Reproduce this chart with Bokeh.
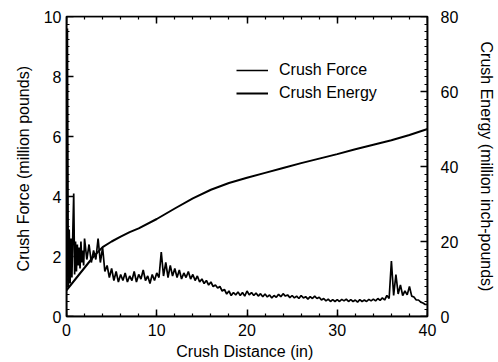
import numpy as np
from bokeh.plotting import figure
from bokeh.models import (LinearAxis, Range1d, SingleIntervalTicker, Legend, LegendItem,
                          ColumnDataSource, CustomJSTickFormatter)
from bokeh.embed import file_html
from bokeh.resources import INLINE

# ---- data ----
# crush force, million pounds: dense sampling 0..2 in (0.1 step), then 0.25 step
force_dist = np.round(np.concatenate([np.arange(0.0, 2.0001, 0.1),
                                      np.arange(2.25, 40.0001, 0.25)]), 2)
force_vals = [
    0.9, 9.6, 1.0, 2.9, 1.1, 2.6, 1.3, 2.8, 4.1, 1.4, 2.5, 1.5, 2.4, 1.7, 2.3, 1.6, 2.5, 1.8, 2.2, 1.7, 2.6,
    1.9, 2.4, 1.8, 2.2, 1.9, 2.6, 1.8, 2.3, 1.5, 1.7, 1.3, 1.6, 1.2, 1.5, 1.15, 1.4,
    1.2, 1.45, 1.15, 1.35, 1.2, 1.5, 1.15, 1.4, 1.25, 1.55, 1.2, 1.35, 1.1, 1.4, 1.2, 1.45,
    1.3, 2.15, 1.35, 1.8, 1.3, 1.7, 1.35, 1.6, 1.3, 1.55, 1.25, 1.45, 1.3, 1.5, 1.25, 1.4,
    1.2, 1.35, 1.15, 1.25, 1.1, 1.2, 1.05, 1.15, 1.0, 1.05, 0.95, 1.0, 0.85, 0.9, 0.75, 0.85,
    0.7, 0.8, 0.72, 0.82, 0.7, 0.8, 0.68, 0.85, 0.72, 0.8, 0.7, 0.78, 0.68, 0.76, 0.66, 0.75,
    0.65, 0.72, 0.62, 0.7, 0.64, 0.74, 0.66, 0.76, 0.68, 0.72, 0.63, 0.7, 0.62, 0.68, 0.6, 0.7,
    0.62, 0.66, 0.58, 0.66, 0.6, 0.68, 0.6, 0.64, 0.55, 0.6, 0.52, 0.58, 0.5, 0.56, 0.5, 0.56,
    0.5, 0.57, 0.52, 0.58, 0.5, 0.56, 0.5, 0.55, 0.48, 0.56, 0.5, 0.55, 0.5, 0.57, 0.52, 0.58,
    0.52, 0.6, 0.54, 0.62, 0.55, 0.7, 0.6, 1.85, 0.7, 1.4, 0.75, 1.05, 0.7, 0.85, 0.72, 1.0,
    0.68, 0.65, 0.55, 0.55, 0.48, 0.45, 0.4, 0.4,
]
assert len(force_dist) == len(force_vals)

# crush energy, million inch-pounds
energy_dist = [0, 1, 2, 3, 4, 5, 6, 7, 8, 10, 12, 14, 16, 18, 20, 22, 24, 26, 28, 30, 32, 34, 36, 38, 40]
energy_vals = [7, 10, 13, 16, 18.5, 20, 21.3, 22.5, 23.5, 26, 28.8, 31.5, 33.8, 35.6, 37, 38.3,
               39.6, 40.9, 42.1, 43.3, 44.6, 45.8, 47, 48.4, 50]

FONT = "Liberation Sans"
FS = "16px"

p = figure(width=498, height=362, output_backend="svg", toolbar_location=None,
           x_range=Range1d(0, 40), y_range=Range1d(0, 10),
           x_axis_location=None, y_axis_location=None,
           min_border_left=66, min_border_right=71, min_border_top=16, min_border_bottom=46)
p.extra_y_ranges = {"energy": Range1d(0, 80)}
p.xgrid.visible = False
p.ygrid.visible = False
p.outline_line_color = "black"
p.outline_line_width = 1.5
p.background_fill_color = "white"
p.border_fill_color = "white"

src_f = ColumnDataSource(dict(x=force_dist, y=force_vals))
src_e = ColumnDataSource(dict(x=energy_dist, y=energy_vals))
r_force = p.line("x", "y", source=src_f, line_color="black", line_width=1.7)
r_energy = p.line("x", "y", source=src_e, line_color="black", line_width=2, y_range_name="energy")

x_ticks = dict(interval=10, num_minor_ticks=5)
yl_ticks = dict(interval=2, num_minor_ticks=8)
yr_ticks = dict(interval=20, num_minor_ticks=10)


def label_axis(ax):
    # axis that carries the numbers and the title (ticks drawn by the tick axes)
    ax.axis_line_color = "black"
    ax.axis_line_width = 1.5
    ax.major_tick_in = 0
    ax.major_tick_out = 0
    ax.minor_tick_in = 0
    ax.minor_tick_out = 0
    ax.major_label_text_font = FONT
    ax.major_label_text_font_size = FS
    ax.major_label_text_color = "black"
    ax.axis_label_text_font = FONT
    ax.axis_label_text_font_size = FS
    ax.axis_label_text_font_style = "normal"
    ax.axis_label_text_color = "black"


def tick_axis(ax):
    # axis pinned on the frame edge that draws inward ticks only
    ax.formatter = CustomJSTickFormatter(code="return ''")
    ax.axis_line_color = "black"
    ax.axis_line_width = 1.5
    ax.major_tick_in = 7
    ax.major_tick_out = 0
    ax.minor_tick_in = 3
    ax.minor_tick_out = 0
    ax.major_tick_line_color = "black"
    ax.minor_tick_line_color = "black"
    ax.major_tick_line_width = 1.5
    ax.minor_tick_line_width = 1.2
    ax.major_label_standoff = 0


# labelled axes (closest to frame)
xa = LinearAxis(ticker=SingleIntervalTicker(**x_ticks), axis_label="Crush Distance  (in)")
label_axis(xa)
xa.major_label_standoff = 7
xa.axis_label_standoff = 4
p.add_layout(xa, "below")

ya = LinearAxis(ticker=SingleIntervalTicker(**yl_ticks), axis_label="Crush Force  (million pounds)")
label_axis(ya)
ya.major_label_standoff = 5
ya.axis_label_standoff = 9
p.add_layout(ya, "left")

ra = LinearAxis(y_range_name="energy", axis_label="Crush Energy (million inch-pounds)",
                ticker=SingleIntervalTicker(**yr_ticks))
label_axis(ra)
ra.major_label_standoff = 13
ra.axis_label_standoff = 17
p.add_layout(ra, "right")

# tick-only axes pinned to the frame edges
tb = LinearAxis(ticker=SingleIntervalTicker(**x_ticks))
tick_axis(tb)
tb.fixed_location = 0
p.add_layout(tb, "below")

tt = LinearAxis(ticker=SingleIntervalTicker(**x_ticks))
tick_axis(tt)
tt.fixed_location = 10
p.add_layout(tt, "above")

tl = LinearAxis(ticker=SingleIntervalTicker(**yl_ticks))
tick_axis(tl)
tl.fixed_location = 0
p.add_layout(tl, "left")

tr = LinearAxis(y_range_name="energy", ticker=SingleIntervalTicker(**yr_ticks))
tick_axis(tr)
tr.fixed_location = 40
p.add_layout(tr, "right")

legend = Legend(items=[LegendItem(label="Crush Force", renderers=[r_force]),
                       LegendItem(label="Crush Energy", renderers=[r_energy])],
                location=(170, 213))
legend.label_text_font = FONT
legend.label_text_font_size = FS
legend.label_text_color = "black"
legend.border_line_alpha = 0
legend.background_fill_alpha = 0
legend.padding = 0
legend.margin = 0
legend.spacing = 3
legend.glyph_width = 32
legend.glyph_height = 20
legend.label_height = 20
legend.label_standoff = 11
p.add_layout(legend, "center")

open("out.html", "w").write(file_html(p, INLINE))
